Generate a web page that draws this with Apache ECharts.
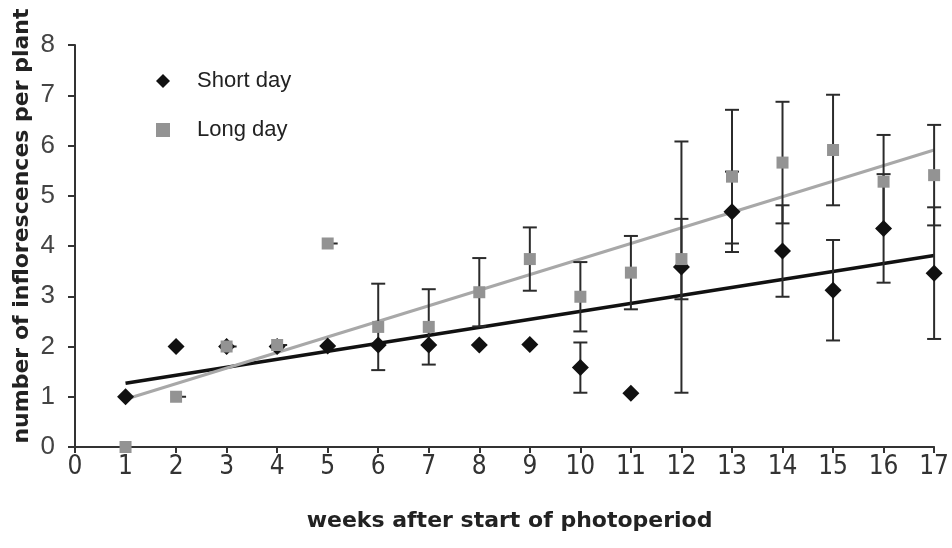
<!DOCTYPE html>
<html>
<head>
<meta charset="utf-8">
<script src="https://cdn.jsdelivr.net/npm/echarts@6/dist/echarts.min.js"></script>
<style>
  html, body { margin: 0; padding: 0; background: #ffffff; }
  #chart { width: 952px; height: 548px; }
</style>
</head>
<body>
<div id="chart"></div>
<script>
// Weeks after the start of the photoperiod
const weeks = [1, 2, 3, 4, 5, 6, 7, 8, 9, 10, 11, 12, 13, 14, 15, 16, 17];

// Mean number of inflorescences per plant
const shortDay = [1.0, 2.0, 2.0, 2.0, 2.01, 2.03, 2.03, 2.03, 2.04, 1.58, 1.07, 3.58, 4.68, 3.90, 3.12, 4.35, 3.46];
const longDay  = [0.0, 1.0, 2.0, 2.03, 4.05, 2.39, 2.39, 3.08, 3.74, 2.99, 3.47, 3.74, 5.38, 5.66, 5.91, 5.28, 5.41];

// Error bar half-lengths (null = no bar drawn)
const shortDayErr = [null, null, null, null, null, null, null, null, null, 0.5, null, 2.5, 0.8, 0.91, 1.0, 1.08, 1.31];
const longDayErr  = [null, 0, 0, 0, 0, 0.86, 0.75, 0.68, 0.63, 0.69, 0.73, 0.8, 1.33, 1.21, 1.1, 0.93, 1.0];

// Linear trend lines, start and end (week, value)
const shortDayTrend = [[1, 1.27], [17, 3.81]];
const longDayTrend  = [[1, 0.95], [17, 5.91]];

// Axis ticks
const xTicks = { min: 0, max: 17, step: 1 };
const yTicks = { min: 0, max: 8, step: 1 };

const pairs = (xs, ys) => xs.map((x, i) => [x, ys[i]]);
const errRows = (xs, ys, es) => xs.map((x, i) => [x, ys[i], es[i]]).filter(r => r[2] !== null);

function renderErrorBar(params, api) {
  const x = api.value(0), y = api.value(1), e = api.value(2);
  const style = { stroke: '#2b2b2b', lineWidth: 2 };
  const c = api.coord([x, y]);
  if (e === 0) {
    return { type: 'line', shape: { x1: c[0], y1: c[1], x2: c[0] + 10, y2: c[1] }, style };
  }
  const top = api.coord([x, y + e]);
  const bot = api.coord([x, y - e]);
  const hw = 7;
  return {
    type: 'group',
    children: [
      { type: 'line', shape: { x1: top[0], y1: top[1], x2: bot[0], y2: bot[1] }, style },
      { type: 'line', shape: { x1: top[0] - hw, y1: top[1], x2: top[0] + hw, y2: top[1] }, style },
      { type: 'line', shape: { x1: bot[0] - hw, y1: bot[1], x2: bot[0] + hw, y2: bot[1] }, style }
    ]
  };
}

const chart = echarts.init(document.getElementById('chart'), null, { renderer: 'canvas' });
const font = '"Liberation Sans", Arial, sans-serif';
const titleFont = '"DejaVu Sans", "Liberation Sans", sans-serif';

chart.setOption({
  animation: false,
  backgroundColor: '#ffffff',
  grid: { left: 75, right: 17, top: 45, bottom: 101 },
  legend: {
    data: ['Short day', 'Long day'],
    orient: 'vertical',
    left: 151,
    top: 65,
    itemWidth: 14,
    itemHeight: 14,
    itemGap: 27,
    itemStyle: { opacity: 1 },
    textStyle: { fontFamily: font, fontSize: 22, color: '#222', padding: [0, 0, 0, 22] }
  },
  xAxis: {
    type: 'value',
    min: xTicks.min,
    max: xTicks.max,
    interval: xTicks.step,
    name: 'weeks after start of photoperiod',
    nameLocation: 'middle',
    nameGap: 63,
    nameTextStyle: { fontFamily: titleFont, fontSize: 22, fontWeight: 'bold', color: '#222', padding: [0, 0, 0, 10] },
    axisLine: { onZero: false, lineStyle: { color: '#333', width: 2 } },
    axisTick: { show: true, length: 6, lineStyle: { color: '#333', width: 2 } },
    axisLabel: { fontFamily: '"Liberation Sans Narrow", "DejaVu Sans Condensed", ' + font, fontSize: 26, color: '#333', margin: 7 },
    splitLine: { show: false }
  },
  yAxis: {
    type: 'value',
    min: yTicks.min,
    max: yTicks.max,
    interval: yTicks.step,
    axisLine: { show: true, lineStyle: { color: '#333', width: 2 } },
    axisTick: { show: true, length: 7, lineStyle: { color: '#333', width: 2 } },
    axisLabel: { fontFamily: font, fontSize: 26, color: '#444', margin: 20 },
    splitLine: { show: false }
  },
  graphic: [{
    type: 'text',
    x: 22,
    y: 226,
    rotation: Math.PI / 2,
    style: {
      text: 'number of inflorescences per plant',
      fontFamily: titleFont,
      fontSize: 22,
      fontWeight: 'bold',
      fill: '#222',
      align: 'center',
      verticalAlign: 'middle'
    }
  }],
  series: [
    {
      name: 'Short day trend',
      type: 'line',
      data: shortDayTrend,
      symbol: 'none',
      lineStyle: { color: '#111', width: 3.5 },
      z: 1
    },
    {
      name: 'Long day trend',
      type: 'line',
      data: longDayTrend,
      symbol: 'none',
      lineStyle: { color: '#a8a8a8', width: 3 },
      z: 1
    },
    {
      name: 'Short day error',
      type: 'custom',
      renderItem: renderErrorBar,
      data: errRows(weeks, shortDay, shortDayErr),
      encode: { x: 0, y: 1 },
      z: 2
    },
    {
      name: 'Long day error',
      type: 'custom',
      renderItem: renderErrorBar,
      data: errRows(weeks, longDay, longDayErr),
      encode: { x: 0, y: 1 },
      z: 2
    },
    {
      name: 'Short day',
      type: 'scatter',
      data: pairs(weeks, shortDay),
      symbol: 'diamond',
      symbolSize: 17,
      itemStyle: { color: '#111111', opacity: 1 },
      z: 3
    },
    {
      name: 'Long day',
      type: 'scatter',
      data: pairs(weeks, longDay),
      symbol: 'rect',
      symbolSize: 12,
      itemStyle: { color: '#939393', opacity: 1 },
      z: 4
    }
  ]
});
</script>
</body>
</html>
